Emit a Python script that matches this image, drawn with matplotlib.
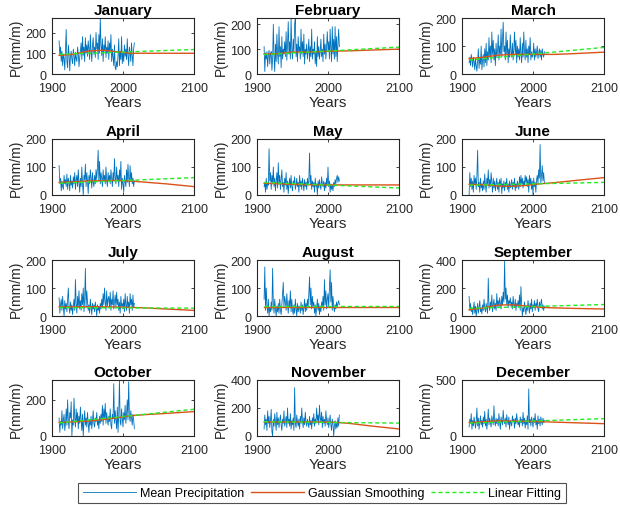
import numpy as np
import matplotlib
matplotlib.use("Agg")
import matplotlib.pyplot as plt

plt.rcParams['font.family'] = ['Liberation Sans', 'DejaVu Sans']

# mean monthly precipitation, 1910-2016
years = np.arange(1910, 2017)

jan = [160, 90, 130, 60, 110, 40, 95, 75, 20, 120,
       215, 60, 30, 140, 100, 15, 85, 110, 70, 50,
       120, 90, 40, 105, 75, 60, 130, 100, 35, 80,
       110, 150, 70, 180, 90, 130, 60, 175, 100, 140,
       85, 160, 120, 70, 190, 110, 60, 140, 175, 95,
       130, 80, 200, 120, 150, 70, 190, 100, 270, 140,
       90, 170, 60, 140, 110, 180, 80, 130, 100, 160,
       70, 150, 110, 190, 60, 120, 80, 40, 140, 30,
       20, 60, 35, 90, 170, 40, 110, 70, 180, 50,
       100, 60, 140, 85, 120, 70, 170, 90, 40, 130,
       100, 60, 150, 90, 40, 120, 150]
feb = [110, 10, 85, 60, 90, 30, 75, 95, 40, 80,
       90, 15, 60, 200, 70, 10, 120, 50, 160, 80,
       40, 190, 70, 110, 25, 150, 60, 100, 80, 130,
       70, 170, 55, 120, 210, 80, 130, 60, 225, 100,
       60, 140, 90, 200, 225, 70, 120, 50, 150, 90,
       110, 60, 180, 80, 130, 70, 160, 40, 100, 80,
       120, 60, 90, 140, 50, 110, 70, 180, 60, 100,
       80, 130, 40, 90, 30, 150, 70, 110, 60, 90,
       140, 70, 100, 50, 160, 80, 120, 60, 110, 170,
       90, 130, 60, 180, 100, 50, 190, 80, 140, 60,
       190, 70, 150, 50, 120, 180, 110]
mar = [40, 60, 30, 70, 50, 25, 60, 45, 15, 55,
       30, 10, 45, 90, 20, 60, 35, 100, 15, 50,
       70, 25, 90, 40, 110, 30, 80, 50, 130, 60,
       100, 40, 150, 70, 120, 50, 90, 30, 110, 60,
       80, 140, 50, 100, 70, 160, 60, 120, 185, 80,
       100, 50, 150, 70, 120, 40, 90, 60, 140, 80,
       60, 110, 50, 90, 150, 70, 120, 40, 100, 60,
       90, 50, 130, 70, 40, 110, 60, 150, 80, 50,
       120, 60, 90, 40, 100, 70, 130, 50, 80, 60,
       70, 110, 50, 90, 60, 80, 100, 55, 75, 90,
       60, 85, 50, 90, 70, 60, 80]
apr = [105, 40, 60, 15, 50, 30, 20, 70, 40, 55,
       30, 75, 20, 60, 45, 15, 70, 35, 50, 25,
       65, 40, 80, 20, 55, 70, 30, 90, 45, 10,
       60, 30, 100, 40, 0, 70, 55, 110, 30, 80,
       50, 5, 70, 40, 90, 60, 25, 80, 45, 30,
       70, 40, 90, 55, 100, 160, 50, 120, 40, 80,
       60, 30, 90, 50, 70, 40, 100, 55, 30, 80,
       50, 70, 40, 90, 60, 30, 80, 50, 130, 60,
       40, 100, 55, 70, 30, 90, 50, 120, 20, 60,
       40, 10, 70, 50, 30, 90, 45, 110, 60, 30,
       105, 50, 80, 40, 60, 30, 50]
may = [30, 45, 10, 60, 20, 40, 35, 165, 50, 80,
       20, 70, 40, 100, 30, 60, 15, 50, 80, 25,
       115, 40, 70, 20, 55, 90, 30, 45, 10, 60,
       35, 80, 20, 50, 5, 40, 60, 25, 70, 30,
       15, 50, 40, 65, 20, 35, 60, 30, 45, 10,
       70, 30, 50, 20, 60, 40, 15, 55, 30, 45,
       20, 60, 35, 50, 150, 40, 70, 20, 50, 30,
       45, 10, 60, 30, 40, 0, 50, 25, 55, 35,
       20, 65, 40, 30, 50, 15, 45, 25, 60, 35,
       100, 30, 50, 10, 40, 20, 35, 15, 45, 30,
       55, 40, 60, 70, 45, 65, 50]
jun = [0, 80, 30, 60, 20, 50, 10, 70, 40, 60,
       20, 70, 160, 30, 45, 10, 60, 25, 40, 15,
       50, 20, 75, 35, 10, 60, 40, 90, 25, 55,
       30, 80, 45, 10, 60, 25, 50, 15, 40, 60,
       20, 45, 10, 55, 30, 60, 5, 40, 25, 50,
       15, 45, 30, 60, 20, 40, 10, 50, 25, 35,
       55, 20, 45, 30, 60, 15, 40, 25, 50, 35,
       20, 65, 30, 70, 40, 60, 25, 50, 35, 70,
       45, 65, 30, 55, 10, 70, 40, 60, 20, 50,
       0, 60, 30, 45, 10, 55, 70, 40, 90, 60,
       180, 40, 70, 105, 50, 80, 45]
jul = [65, 10, 40, 60, 20, 70, 30, 0, 55, 25,
       45, 15, 60, 100, 30, 10, 50, 20, 40, 5,
       35, 60, 20, 130, 45, 10, 70, 30, 90, 25,
       55, 20, 80, 40, 100, 15, 60, 170, 30, 90,
       50, 20, 40, 10, 60, 30, 5, 45, 25, 40,
       15, 50, 30, 0, 40, 20, 35, 10, 45, 25,
       60, 30, 80, 40, 100, 50, 20, 90, 35, 60,
       70, 30, 85, 20, 60, 40, 90, 25, 50, 75,
       30, 85, 40, 60, 20, 50, 10, 70, 35, 45,
       25, 60, 15, 80, 40, 20, 70, 30, 50, 10,
       80, 40, 60, 20, 75, 30, 45]
aug = [60, 175, 20, 100, 40, 10, 60, 0, 30, 15,
       50, 20, 170, 40, 10, 60, 25, 0, 35, 15,
       45, 10, 60, 20, 5, 40, 80, 120, 30, 70,
       50, 20, 80, 40, 10, 55, 30, 90, 15, 60,
       20, 5, 40, 10, 60, 25, 0, 45, 15, 35,
       30, 10, 50, 20, 40, 5, 30, 60, 15, 45,
       20, 60, 30, 80, 140, 40, 100, 25, 70, 30,
       50, 10, 40, 0, 30, 60, 20, 45, 5, 35,
       15, 50, 30, 70, 20, 130, 40, 90, 25, 60,
       80, 30, 100, 165, 50, 120, 20, 70, 35, 15,
       40, 25, 50, 30, 45, 55, 40]
sep = [140, 40, 90, 30, 60, 10, 50, 100, 20, 70,
       0, 40, 90, 20, 60, 110, 30, 50, 15, 80,
       40, 120, 60, 30, 90, 50, 20, 270, 70, 40,
       100, 60, 150, 30, 80, 120, 50, 90, 40, 160,
       70, 110, 60, 130, 90, 50, 140, 80, 170, 100,
       390, 120, 200, 80, 150, 60, 110, 90, 130, 70,
       100, 50, 140, 80, 60, 120, 40, 90, 70, 110,
       60, 150, 40, 210, 80, 0, 60, 30, 100, 50,
       10, 70, 40, 110, 60, 20, 90, 50, 120, 30,
       80, 60, 110, 40, 90, 70, 120, 50, 30, 100,
       60, 90, 120, 50, 80, 40, 70]
oct_ = [100, 20, 80, 60, 140, 40, 90, 120, 30, 70,
        150, 60, 200, 80, 40, 130, 100, 190, 0, 90,
        60, 210, 100, 50, 150, 80, 130, 40, 110, 70,
        160, 90, 30, 120, 0, 80, 140, 60, 100, 50,
        130, 70, 20, 90, 60, 110, 40, 80, 140, 70,
        50, 100, 80, 130, 60, 90, 40, 110, 70, 120,
        80, 170, 60, 150, 100, 180, 70, 130, 90, 60,
        110, 80, 150, 60, 40, 120, 100, 290, 70, 140,
        90, 40, 160, 20, 120, 310, 80, 60, 150, 100,
        50, 130, 90, 170, 70, 120, 200, 90, 300, 110,
        80, 140, 100, 60, 120, 90, 40]
nov = [50, 150, 80, 120, 40, 180, 90, 140, 60, 110,
       190, 30, 0, 120, 70, 160, 100, 40, 170, 80,
       130, 60, 110, 150, 80, 40, 120, 90, 180, 70,
       100, 140, 60, 200, 90, 120, 70, 160, 50, 110,
       80, 130, 40, 345, 90, 60, 150, 100, 70, 120,
       50, 140, 90, 200, 110, 60, 130, 80, 170, 100,
       70, 120, 90, 60, 140, 80, 110, 50, 130, 90,
       160, 70, 120, 90, 200, 110, 150, 80, 220, 130,
       100, 170, 60, 140, 90, 120, 70, 180, 110, 80,
       130, 60, 100, 150, 80, 40, 120, 90, 0, 70,
       110, 50, 90, 60, 130, 70, 150]
dec = [80, 150, 110, 200, 60, 140, 90, 170, 120, 70,
       130, 250, 90, 160, 60, 120, 180, 100, 140, 80,
       170, 110, 220, 90, 150, 60, 130, 240, 100, 160,
       120, 80, 180, 140, 100, 270, 130, 90, 160, 110,
       150, 90, 200, 120, 60, 170, 130, 100, 230, 140,
       110, 160, 80, 190, 130, 100, 170, 60, 140, 120,
       90, 180, 130, 150, 70, 160, 110, 200, 140, 100,
       130, 80, 170, 120, 150, 90, 210, 110, 160, 70,
       140, 100, 180, 60, 420, 120, 150, 90, 170, 130,
       80, 160, 120, 200, 100, 140, 60, 180, 110, 150,
       90, 170, 130, 100, 160, 120, 140]

# gaussian smoothing + extension to 2100, read at these years
sm_years = [1910, 1930, 1950, 1970, 1990, 2010, 2030, 2060, 2100]
sm_jan = [90, 95, 110, 115, 108, 100, 100, 100, 100]
sm_feb = [80, 82, 88, 88, 90, 92, 93, 96, 100]
sm_mar = [55, 60, 67, 70, 70, 70, 70, 73, 78]
sm_apr = [45, 47, 50, 51, 52, 50, 46, 40, 30]
sm_may = [42, 40, 38, 37, 36, 36, 36, 36, 36]
sm_jun = [38, 37, 32, 31, 34, 40, 44, 52, 62]
sm_jul = [32, 33, 33, 33, 32, 31, 29, 25, 20]
sm_aug = [33, 33, 33, 33, 33, 33, 33, 33, 33]
sm_sep = [45, 58, 78, 80, 72, 62, 58, 54, 50]
sm_oct = [75, 78, 82, 90, 100, 112, 118, 125, 135]
sm_nov = [100, 100, 100, 100, 100, 98, 90, 72, 50]
sm_dec = [120, 128, 135, 133, 130, 128, 124, 118, 110]

# linear fit, value at 1910 and at 2100
fit_years = [1910, 2100]
fit_jan = [95, 118]
fit_feb = [78, 108]
fit_mar = [50, 95]
fit_apr = [42, 62]
fit_may = [45, 25]
fit_jun = [35, 45]
fit_jul = [30, 28]
fit_aug = [36, 36]
fit_sep = [55, 82]
fit_oct = [72, 148]
fit_nov = [102, 92]
fit_dec = [115, 155]

months = ["January", "February", "March", "April", "May", "June", "July",
          "August", "September", "October", "November", "December"]
series = [jan, feb, mar, apr, may, jun, jul, aug, sep, oct_, nov, dec]
smooth = [sm_jan, sm_feb, sm_mar, sm_apr, sm_may, sm_jun, sm_jul, sm_aug,
          sm_sep, sm_oct, sm_nov, sm_dec]
fits = [fit_jan, fit_feb, fit_mar, fit_apr, fit_may, fit_jun, fit_jul,
        fit_aug, fit_sep, fit_oct, fit_nov, fit_dec]
ylims = [270, 225, 200, 200, 200, 200, 200, 200, 400, 310, 400, 500]
yticks = [[0, 100, 200], [0, 100, 200], [0, 100, 200], [0, 100, 200],
          [0, 100, 200], [0, 100, 200], [0, 100, 200], [0, 100, 200],
          [0, 200, 400], [0, 200], [0, 200, 400], [0, 500]]

W, H = 620, 506
fig = plt.figure(figsize=(W / 100, H / 100), dpi=100)

col_left = [52, 257, 462]
row_top = [19, 140, 261, 381]
aw, ah = 142, 56
dark = "#262626"

lines = []
for i in range(12):
    r, c = divmod(i, 3)
    ax = fig.add_axes([col_left[c] / W, 1 - (row_top[r] + ah) / H, aw / W, ah / H])
    l1, = ax.plot(years, series[i], color="#0072BD", lw=0.6)
    l2, = ax.plot(sm_years, smooth[i], color="#D95319", lw=1.0)
    l3, = ax.plot(fit_years, fits[i], color="#22EE22", lw=1.0, ls=(0, (3, 2)))
    lines = [l1, l2, l3]
    ax.set_xlim(1900, 2100)
    ax.set_ylim(0, ylims[i])
    ax.set_xticks([1900, 2000, 2100])
    ax.set_yticks(yticks[i])
    ax.tick_params(direction="in", length=2.5, width=0.6, top=True, right=True,
                   labelsize=9, colors=dark, pad=4)
    ax.tick_params(axis="x", pad=6)
    for s in ax.spines.values():
        s.set_linewidth(0.8)
        s.set_color(dark)
    ax.set_title(months[i], fontsize=11, fontweight="bold", pad=3)
    ax.set_xlabel("Years", fontsize=11, color=dark, labelpad=0.5)
    ax.set_ylabel("P(mm/m)", fontsize=10, color=dark, labelpad=2)

leg = fig.legend(lines, ["Mean Precipitation", "Gaussian Smoothing", "Linear Fitting"],
                 loc="center", bbox_to_anchor=(322 / W, 1 - 494 / H), ncol=3,
                 fontsize=9, frameon=True, fancybox=False, handlelength=4.3,
                 columnspacing=0.5, handletextpad=0.3, borderpad=0.35,
                 borderaxespad=0.2)
leg.get_frame().set_edgecolor(dark)
leg.get_frame().set_linewidth(0.8)

fig.savefig("out.png", dpi=100)
